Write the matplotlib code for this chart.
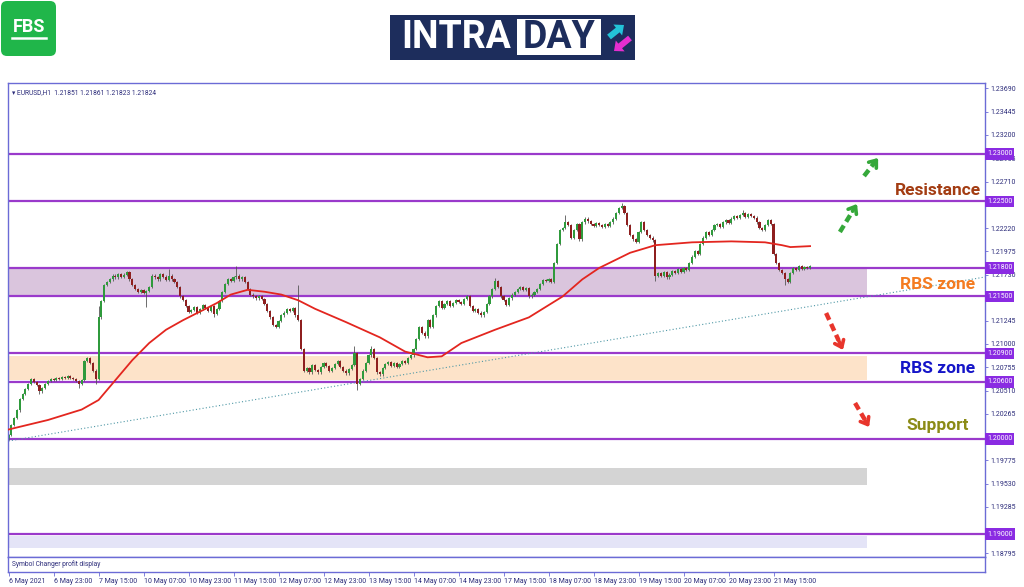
import numpy as np
import matplotlib.pyplot as plt
from matplotlib.patches import Rectangle, FancyBboxPatch, FancyArrow

# hourly closes, EURUSD H1, 6 May 07:00 .. 21 May
closes = [
    1.2004, 1.2015, 1.2022, 1.2030, 1.2042, 1.2047, 1.2053, 1.2058, 1.2063,
    1.2060, 1.2057, 1.2050, 1.2054, 1.2058,
    1.2061, 1.2063, 1.2062, 1.2064, 1.2063, 1.2065, 1.2064, 1.2066, 1.2064, 1.2063, 1.2061, 1.2058,
    1.2062, 1.2082, 1.2085, 1.2080, 1.2072, 1.2063,
    1.2128, 1.2145, 1.2162, 1.2165,
    1.2168, 1.2172, 1.2170, 1.2174, 1.2171, 1.2173, 1.2176, 1.2168,
    1.2162, 1.2158, 1.2155, 1.2157, 1.2154, 1.2156, 1.2160,
    1.2172, 1.2170, 1.2168, 1.2174, 1.2171, 1.2167, 1.2172, 1.2168, 1.2165, 1.2160,
    1.2150, 1.2146, 1.2140, 1.2134,
    1.2136, 1.2139, 1.2133, 1.2137, 1.2141, 1.2138, 1.2135, 1.2140, 1.2132, 1.2137, 1.2145,
    1.2155, 1.2163, 1.2168, 1.2166, 1.2170, 1.2172, 1.2168, 1.2170, 1.2165,
    1.2158, 1.2152, 1.2150, 1.2148, 1.2150, 1.2147, 1.2142,
    1.2135, 1.2128, 1.2120, 1.2118,
    1.2124, 1.2130, 1.2133, 1.2137, 1.2135, 1.2138, 1.2130,
    1.2125, 1.2095, 1.2072,
    1.2075, 1.2070, 1.2078, 1.2073, 1.2070, 1.2076, 1.2080, 1.2077, 1.2072, 1.2075, 1.2079, 1.2082,
    1.2076, 1.2072, 1.2069, 1.2074, 1.2078,
    1.2090, 1.2058, 1.2063,
    1.2072, 1.2080, 1.2088, 1.2095, 1.2085, 1.2070,
    1.2068, 1.2075, 1.2079, 1.2081, 1.2077, 1.2080, 1.2076, 1.2079, 1.2082, 1.2080, 1.2085, 1.2088,
    1.2095, 1.2105, 1.2118, 1.2112, 1.2108, 1.2125,
    1.2118, 1.2130, 1.2140, 1.2145, 1.2138,
    1.2142, 1.2145, 1.2140, 1.2143, 1.2146, 1.2144, 1.2142, 1.2147, 1.2150,
    1.2140, 1.2135, 1.2137, 1.2133, 1.2130, 1.2134,
    1.2142, 1.2150, 1.2158, 1.2166, 1.2160,
    1.2150, 1.2146, 1.2141, 1.2148,
    1.2152, 1.2155, 1.2158, 1.2160, 1.2157, 1.2159,
    1.2150, 1.2152, 1.2155, 1.2158,
    1.2163, 1.2167, 1.2166, 1.2168, 1.2165,
    1.2185, 1.2205, 1.2220, 1.2222,
    1.2228, 1.2225, 1.2212, 1.2220, 1.2226, 1.2210,
    1.2228, 1.2232, 1.2229,
    1.2226, 1.2224, 1.2227, 1.2225, 1.2223, 1.2226, 1.2224, 1.2228, 1.2232, 1.2238,
    1.2243, 1.2245, 1.2238,
    1.2225, 1.2215, 1.2210, 1.2207,
    1.2218, 1.2228, 1.2220,
    1.2215, 1.2212, 1.2209,
    1.2172,
    1.2175, 1.2172, 1.2176, 1.2170, 1.2173, 1.2177, 1.2175, 1.2179, 1.2176, 1.2180, 1.2178,
    1.2185, 1.2192, 1.2198, 1.2195,
    1.2205, 1.2212, 1.2218, 1.2215, 1.2220, 1.2225,
    1.2226, 1.2223, 1.2228, 1.2230, 1.2227, 1.2232, 1.2235, 1.2233,
    1.2236, 1.2238, 1.2234, 1.2237, 1.2235, 1.2233,
    1.2228, 1.2222, 1.2220, 1.2225,
    1.2230, 1.2226,
    1.2195, 1.2185, 1.2178, 1.2175,
    1.2168, 1.2165,
    1.2175, 1.2180, 1.2178, 1.2182, 1.2179, 1.2181, 1.2180, 1.2182,
]
first_open = 1.2001

# long wicks (bar index: price)
high_spikes = {32: 1.2140, 42: 1.2177, 57: 1.2179, 81: 1.2182, 103: 1.2162, 123: 1.2098,
               129: 1.2098, 173: 1.2169, 198: 1.2236, 218: 1.2248, 261: 1.2241}
low_spikes = {0: 1.1999, 11: 1.2047, 25: 1.2054, 31: 1.2058, 49: 1.2139, 73: 1.2128,
              124: 1.2052, 230: 1.2166, 276: 1.2162}

# moving average
ma_bars = [0, 14, 26, 32, 38, 44, 50, 56, 62, 68, 74, 79, 85, 91, 97, 103, 109, 120, 132,
           141, 149, 154, 161, 173, 185, 197, 204, 210, 221, 230, 243, 257, 269, 275, 278, 285]
ma_vals = [1.2010, 1.2020, 1.2031, 1.2041, 1.2062, 1.2083, 1.2101, 1.2115, 1.2125, 1.2134,
           1.2143, 1.2152, 1.2157, 1.2155, 1.2152, 1.2146, 1.2137, 1.2123, 1.2107, 1.2092,
           1.2086, 1.2087, 1.2101, 1.2115, 1.2128, 1.2150, 1.2168, 1.2180, 1.2196, 1.2204,
           1.2207, 1.2208, 1.2207, 1.2204, 1.2202, 1.2203]

levels = [1.2300, 1.2250, 1.2180, 1.2150, 1.2090, 1.2060, 1.2000, 1.1900]
level_labels = ["1.23000", "1.22500", "1.21800", "1.21500", "1.20900", "1.20600", "1.20000", "1.19000"]

# price scale; labels hidden under the level boxes in the original are left blank
ytick_values = [1.23690, 1.23445, 1.23200, 1.22955, 1.22710, 1.22465, 1.22220, 1.21975,
                1.21730, 1.21485, 1.21245, 1.21000, 1.20755, 1.20510, 1.20265, 1.20020,
                1.19775, 1.19530, 1.19285, 1.19040, 1.18795]
ytick_labels = ["1.23690", "1.23445", "1.23200", "1.22955", "1.22710", "", "1.22220",
                "1.21975", "1.21730", "", "1.21245", "1.21000", "1.20755", "1.20510",
                "1.20265", "", "1.19775", "1.19530", "1.19285", "", "1.18795"]

xtick_labels = ["6 May 2021", "6 May 23:00", "7 May 15:00", "10 May 07:00", "10 May 23:00",
                "11 May 15:00", "12 May 07:00", "12 May 23:00", "13 May 15:00", "14 May 07:00",
                "14 May 23:00", "17 May 15:00", "18 May 07:00", "18 May 23:00", "19 May 15:00",
                "20 May 07:00", "20 May 23:00", "21 May 15:00"]

# zones: (low, high, colour)
zones = [(1.2151, 1.2179, "#dac5dd"), (1.2062, 1.2087, "#fde3c9"),
         (1.19516, 1.19695, "#d4d4d4"), (1.18853, 1.18979, "#e4e4f7")]
zone_end = 305.2

trend_x = [0, 347.2]
trend_y = [1.19979, 1.21705]

notes = [("Resistance", 1.2262, "#a33c12"), ("RBS zone", 1.21630, "#f47b20"),
         ("RBS zone", 1.20747, "#1515c8"), ("Support", 1.20137, "#8b8b16")]

green_arrows = [((295.6, 1.22179), (301.7, 1.22474)), ((304.2, 1.22768), (309.2, 1.22958))]
red_arrows = [((290.7, 1.21326), (296.7, 1.20937)), ((301.0, 1.20379), (306.0, 1.20126))]

frame = "#6b6bd6"
navy = "#2c2c7a"
small_font = "Roboto"

fig = plt.figure(figsize=(10.24, 5.87), dpi=100)
ax = fig.add_axes([8 / 1024, 1 - 557 / 587, 977 / 1024, 474 / 587])
sub = fig.add_axes([8 / 1024, 1 - 572 / 587, 977 / 1024, 15 / 587])

x = np.arange(len(closes))
c = np.array(closes)
o = np.concatenate([[first_open], c[:-1]])
hi = np.maximum(o, c) + 0.00012
lo = np.minimum(o, c) - 0.00012
for k, v in high_spikes.items():
    hi[k] = v
for k, v in low_spikes.items():
    lo[k] = v

for lo_z, hi_z, col in zones:
    ax.add_patch(Rectangle((-1, lo_z), zone_end + 1, hi_z - lo_z, facecolor=col,
                           edgecolor="none", zorder=0.5))

for lv in levels:
    ax.axhline(lv, color="#9a3acb", lw=1.6, zorder=1)

ax.plot(trend_x, trend_y, ls=(0, (1, 2)), color="#4f98a6", lw=0.8, zorder=1.2)

ax.vlines(x, lo, hi, color="#555555", lw=0.6, zorder=2)
up = c >= o
body_bot = np.minimum(o, c)
body_h = np.maximum(np.abs(c - o), 0.00005)
ax.bar(x, body_h, bottom=body_bot, width=0.75,
       color=np.where(up, "#2f9a3c", "#8e1f1f"), edgecolor="none", zorder=2.5)

ax.plot(ma_bars, ma_vals, color="#e3261f", lw=1.3, zorder=3)

for txt, yv, col in notes:
    ax.text(330.5, yv, txt, color=col, fontsize=12.5, fontweight="bold", family="Roboto",
            ha="center", va="center", zorder=4)


def dashed_arrow(p0, p1, col):
    (x0, y0), (x1, y1) = p0, p1
    xm, ym = x0 + 0.74 * (x1 - x0), y0 + 0.74 * (y1 - y0)
    ax.plot([x0, xm], [y0, ym], color=col, lw=3.2, ls=(0, (1.7, 1.0)),
            solid_capstyle="butt", dash_capstyle="butt", zorder=4)
    ax.annotate("", xy=(x1, y1), xytext=(xm, ym), zorder=4,
                arrowprops=dict(arrowstyle="->,head_width=0.35,head_length=0.45",
                                lw=2.6, color=col, shrinkA=0, shrinkB=0))


for p0, p1 in green_arrows:
    dashed_arrow(p0, p1, "#35a83a")
for p0, p1 in red_arrows:
    dashed_arrow(p0, p1, "#e8352c")

ax.set_xlim(-0.2, 347.2)
ax.set_ylim(1.18758, 1.23747)
ax.set_xticks([])
ax.yaxis.tick_right()
ax.set_yticks(ytick_values)
ax.set_yticklabels(ytick_labels, family=small_font)
ax.tick_params(axis="y", length=2.5, width=0.6, color=frame, labelsize=5,
               labelcolor=navy, pad=1.5)
for s in ax.spines.values():
    s.set_color(frame)
    s.set_linewidth(1)

for lv, lab in zip(levels, level_labels):
    ax.text(1.002, lv, lab, transform=ax.get_yaxis_transform(), fontsize=5, color="white",
            family=small_font, ha="left", va="center", zorder=6, clip_on=False,
            bbox=dict(boxstyle="square,pad=0.3", fc="#8a2be2", ec="none"))

ax.text(0.004, 0.988, "\u25be EURUSD,H1  1.21851 1.21861 1.21823 1.21824", transform=ax.transAxes,
        fontsize=4.8, color=navy, family=["Roboto", "DejaVu Sans"], ha="left", va="top")

sub.set_xlim(-0.2, 347.2)
sub.set_ylim(0, 1)
sub.set_yticks([])
sub.set_xticks(np.arange(len(xtick_labels)) * 16)
sub.set_xticklabels(xtick_labels, ha="left", family=small_font)
sub.tick_params(axis="x", length=3, width=0.6, color=frame, labelsize=5,
                labelcolor=navy, pad=1)
for s in sub.spines.values():
    s.set_color(frame)
    s.set_linewidth(1)
sub.text(0.004, 0.5, "Symbol Changer profit display", transform=sub.transAxes,
         fontsize=4.8, color=navy, family=small_font, ha="left", va="center")

# logos
lg = fig.add_axes([0, 0, 1, 1])
lg.set_xlim(0, 1024)
lg.set_ylim(587, 0)
lg.axis("off")
lg.add_patch(FancyBboxPatch((1, 1), 55, 55, boxstyle="round,pad=0,rounding_size=6",
                            fc="#20b64a", ec="none"))
lg.text(29, 27, "FBS", color="white", fontsize=13, fontweight="bold", family="Roboto",
        ha="center", va="center")
lg.plot([12, 46], [38, 38], color="white", lw=1.8)

lg.add_patch(Rectangle((390, 15), 245, 45, fc="#1d2d5c", ec="none"))
lg.add_patch(Rectangle((517, 19), 84, 36, fc="white", ec="none"))
lg.text(456, 38, "INTRA", color="white", fontsize=27, fontweight="bold", family="Roboto",
        ha="center", va="center")
lg.text(559, 38, "DAY", color="#1d2d5c", fontsize=27, fontweight="bold", family="Roboto",
        ha="center", va="center")
lg.add_patch(FancyArrow(609, 37, 15, -12, width=6, head_width=14, head_length=8,
                        length_includes_head=True, fc="#23c3d8", ec="none"))
lg.add_patch(FancyArrow(630, 38, -16, 13, width=6, head_width=14, head_length=8,
                        length_includes_head=True, fc="#e52ed0", ec="none"))

fig.savefig("out.png", dpi=100)
